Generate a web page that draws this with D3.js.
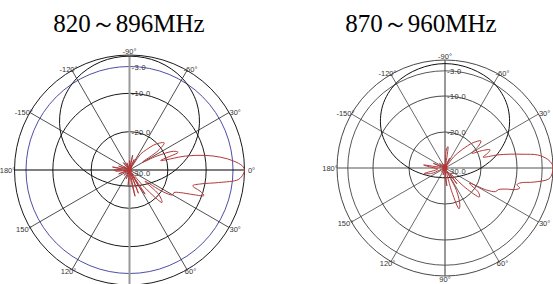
<!DOCTYPE html>
<html>
<head>
<meta charset="utf-8">
<script src="https://cdn.jsdelivr.net/npm/d3@7"></script>
<style>
  body { margin: 0; background: #fff; }
  svg { display: block; }
</style>
</head>
<body>
<div id="chart"></div>
<script>
// band titles
const titles = ['820～896MHz', '870～960MHz'];

// rings (dB) and their labels along the -90° spoke
const ringLevels = [0, -3, -10, -20];
const ringLabels = ['-3.0', '-10.0', '-20.0', '-30.0'];
const ringLabelLevels = [-3, -10, -20, -30];

// spokes every 30°, angle measured clockwise from the right
const spokeAngles = [0, 30, 60, 90, 120, 150, 180, 210, 240, 270, 300, 330];
const spokeLabels = ['0°', '30°', '60°', '90°', '120°', '150°', '180°', '-150°', '-120°', '-90°', '-60°', '30°'];

// black (vertical plane) patterns, dB every 15° from -180°
const blackAngles = [-180, -165, -150, -135, -120, -105, -90, -75, -60, -45, -30, -15, 0, 15, 30, 45, 60, 75, 90, 105, 120, 135, 150, 165];
const blackLeft = [-18, -13.7, -9.1, -5.2, -2.4, -0.8, -0.3, -0.8, -2.4, -5.2, -9.1, -13.7, -18, -21.3, -23.4, -24.6, -25.3, -25.7, -25.8, -25.7, -25.3, -24.6, -23.4, -21.3];
const blackRight = [-20, -14.9, -9.6, -5.5, -2.8, -1.5, -1.0, -1.5, -2.8, -5.5, -9.6, -14.9, -20, -23.5, -25.4, -26.4, -27, -27.2, -27.3, -27.2, -27, -26.4, -25.4, -23.5];

// red (horizontal plane) patterns
const redLeftAngles = [-180, -175, -170, -165, -160, -155, -150, -140, -130, -120, -110, -100, -90, -85, -78, -72, -66, -60, -55, -50, -46, -42, -38, -34, -31, -27, -23, -20, -17, -14, -11, -8, -5, -2, 0, 2, 5, 8, 11, 14, 17, 19, 21, 24, 27, 30, 33, 36, 40, 45, 49, 53, 57, 61, 65, 69, 73, 78, 83, 88, 95, 102, 110, 120, 135, 150, 160, 170, 175];
const redLeft = [-26, -28, -25.5, -29, -27, -30, -28, -30, -27.5, -30, -28, -30, -27.5, -30, -26, -30, -27, -30, -25, -23, -21, -19.5, -18.5, -21, -26, -22, -17.5, -16.5, -21.5, -15, -10, -6, -2.8, -0.5, 0, -0.3, -1.5, -6.5, -11, -13, -10.5, -9.5, -12, -15.5, -17, -17, -19.5, -25, -20, -18, -24, -29, -22.5, -26, -30, -23.5, -29, -23, -28, -30, -26, -30, -27.5, -30, -28, -30, -27, -29.5, -26.5];

const redRightAngles = [-180, -172, -165, -158, -150, -140, -130, -120, -110, -100, -92, -86, -82, -78, -72, -65, -58, -52, -47, -42, -37, -33, -29, -25, -22, -19, -16, -14, -12, -10, -8, -5, -2, 0, 3, 6, 9, 11, 13, 15, 17, 19, 22, 25, 28, 32, 36, 40, 44, 48, 53, 58, 63, 68, 71, 74, 79, 84, 89, 95, 105, 115, 130, 145, 158, 165, 172];
const redRight = [-27, -24, -29, -26.5, -30, -28, -30, -28.5, -30, -29, -30, -25, -24, -29, -30, -27, -30, -26, -23, -19.5, -17.5, -19, -21.5, -18.5, -16.5, -17.5, -19, -15, -11.5, -8, -4, -1.5, -0.2, 0, -0.2, -1, -5, -8.5, -9.5, -8.5, -9.5, -12, -14, -14.5, -17, -22, -18.5, -17.5, -22, -28, -24.5, -29, -23, -19, -18, -23, -30, -25, -28, -30, -28, -30, -28.5, -30, -26, -24, -28];

const width = 553, height = 284;
const svg = d3.select('#chart').append('svg')
    .attr('width', width)
    .attr('height', height);

const charts = [
    { cx: 129.5, cy: 170, R: 115, tx: 129, title: titles[0], ring: '#000', ring3: '#3a3a9a', spoke: '#222', vAxis: '#999', vWidth: 2, hAxis: '#000',
      black: blackLeft, redA: redLeftAngles, red: redLeft, hide: [90] },
    { cx: 445, cy: 168, R: 108, tx: 421, title: titles[1], ring: '#333', ring3: '#444', spoke: '#444', vAxis: '#555', vWidth: 1.2, hAxis: '#555',
      black: blackRight, redA: redRightAngles, red: redRight, hide: [0] }
];

charts.forEach(c => drawPolar(c));

function drawPolar(c) {
    const r = d3.scaleLinear().domain([-30, 0]).range([0, c.R]);
    const rad = a => a * Math.PI / 180;

    svg.append('text')
        .attr('x', c.tx)
        .attr('y', 32)
        .attr('text-anchor', 'middle')
        .attr('font-family', '"Liberation Serif", "Times New Roman", serif')
        .attr('font-size', 25)
        .attr('fill', '#000')
        .text(c.title);

    const g = svg.append('g').attr('transform', `translate(${c.cx},${c.cy})`);

    g.append('g').selectAll('circle')
        .data(ringLevels)
        .join('circle')
        .attr('r', d => r(d))
        .attr('fill', 'none')
        .attr('stroke', d => d === -3 ? c.ring3 : c.ring)
        .attr('stroke-width', 0.9);

    g.append('g').selectAll('line')
        .data(spokeAngles.filter(a => a < 180))
        .join('line')
        .attr('x1', a => r(0) * Math.cos(rad(a)))
        .attr('y1', a => r(0) * Math.sin(rad(a)))
        .attr('x2', a => -r(0) * Math.cos(rad(a)))
        .attr('y2', a => -r(0) * Math.sin(rad(a)))
        .attr('stroke', a => a === 90 ? c.vAxis : (a === 0 ? c.hAxis : c.spoke))
        .attr('stroke-width', a => a === 90 ? c.vWidth : (a === 0 ? 1.1 : 0.8));

    // angle labels
    const labelled = spokeAngles
        .map((a, i) => ({ a, text: spokeLabels[i] }))
        .filter(d => c.hide.indexOf(d.a) < 0);

    g.append('g').selectAll('text')
        .data(labelled)
        .join('text')
        .attr('x', d => (r(0) + 7) * Math.cos(rad(d.a)))
        .attr('y', d => {
            const s = Math.sin(rad(d.a));
            if (d.a === 270) return -r(0) - 1;
            if (d.a === 90) return height - c.cy - 2;
            return r(0) * s + 2 * s + 3;
        })
        .attr('text-anchor', 'middle')
        .attr('font-family', '"Liberation Sans", Arial, sans-serif')
        .attr('font-size', 7.5)
        .attr('fill', '#333')
        .text(d => d.text);

    // ring labels
    g.append('g').selectAll('text')
        .data(ringLabelLevels)
        .join('text')
        .attr('x', 2)
        .attr('y', d => d === -30 ? 6 : -r(d) + 3)
        .attr('font-family', '"Liberation Sans", Arial, sans-serif')
        .attr('font-size', 7.5)
        .attr('letter-spacing', 0.4)
        .attr('fill', '#333')
        .text((d, i) => ringLabels[i]);

    const line = d3.lineRadial()
        .angle(d => rad(d[0] + 90))
        .radius(d => r(d[1]))
        .curve(d3.curveCatmullRomClosed.alpha(0.5));

    g.append('path')
        .datum(blackAngles.map((a, i) => [a, c.black[i]]))
        .attr('d', line)
        .attr('fill', 'none')
        .attr('stroke', '#111')
        .attr('stroke-width', 1);

    g.append('path')
        .datum(c.redA.map((a, i) => [a, c.red[i]]))
        .attr('d', line)
        .attr('fill', 'none')
        .attr('stroke', '#b3393a')
        .attr('stroke-width', 1);

    g.append('circle')
        .attr('r', 2.5)
        .attr('fill', '#c0302f');
}
</script>
</body>
</html>
